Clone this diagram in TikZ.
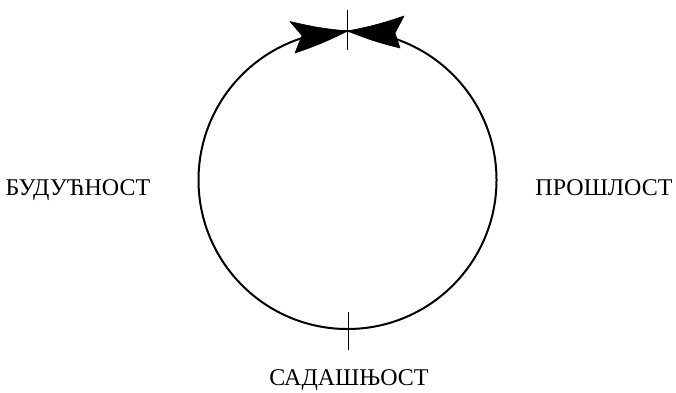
\documentclass[tikz,border=0pt]{standalone}
\usepackage{fontspec}
\setmainfont{Liberation Serif}
\begin{document}
\begin{tikzpicture}[x=1pt,y=-1pt,
  lbl/.style={font=\fontsize{24}{28}\selectfont, anchor=base, inner sep=0pt},
  ring/.style={line width=2pt},
  tick/.style={line width=0.9pt},
  head/.style={fill=black, draw=black, line width=0.6pt, line join=round}]
\useasboundingbox (0,0) rectangle (676,392);
\coordinate (c) at (347.5,180);
\draw[ring] (c) circle[radius=149];
\coordinate (top) at (347.5,31);
\fill[head] (top) to[bend left=4] (290,21.5) -- (302,35.5) -- (295,53) to[bend right=4] cycle;
\fill[head] (top) to[bend right=4] (404,16) -- (395,33) -- (400,48) to[bend left=4] cycle;
\coordinate (t1) at (347.5,10);
\coordinate (t2) at (347.5,50);
\coordinate (b1) at (348,312);
\coordinate (b2) at (348,350);
\draw[tick] (t1) -- (t2);
\draw[tick] (b1) -- (b2);
\node[lbl] (fut) at (78,195) {БУДУЋНОСТ};
\node[lbl] (past) at (604,195) {ПРОШЛОСТ};
\node[lbl] (pres) at (349,385) {САДАШЊОСТ};
\end{tikzpicture}
\end{document}
